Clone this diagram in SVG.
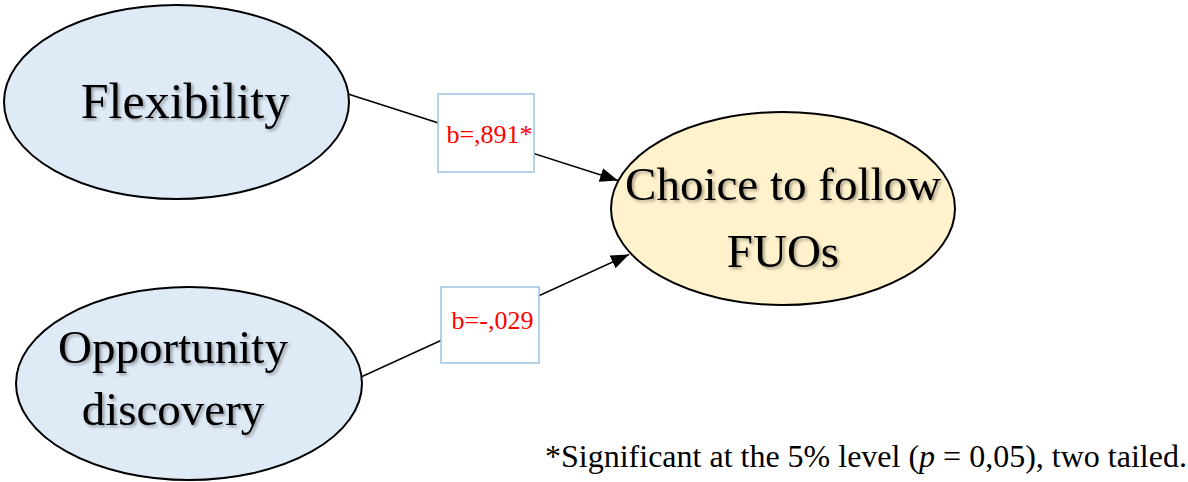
<svg xmlns="http://www.w3.org/2000/svg" width="1188" height="482" viewBox="0 0 1188 482">
<style>
.ell{stroke:#000;stroke-width:2}
.blue{fill:#DEEAF6}
.yel{fill:#FFF2CC}
.lbl{font-family:"Liberation Serif","Times New Roman",serif;fill:#000;text-anchor:middle}
.box{fill:#fff;stroke:#9DC3E6;stroke-width:1.5}
.coef{font-family:"Liberation Serif","Times New Roman",serif;font-size:26px;fill:#FF0000;text-anchor:middle}
.conn{stroke:#000;stroke-width:1.5;fill:none}
.note{font-family:"Liberation Serif","Times New Roman",serif;font-size:32px;fill:#000}
</style>
<defs>
<marker id="arr" markerUnits="userSpaceOnUse" markerWidth="22" markerHeight="16" refX="18" refY="7" orient="auto">
<path d="M0,0 L18,7 L0,14 Z" fill="#000"/>
</marker>
<filter id="sh" x="-10%" y="-20%" width="130%" height="150%">
<feDropShadow dx="2" dy="2" stdDeviation="1.5" flood-color="#000" flood-opacity="0.35"/>
</filter>
</defs>
<g id="connectors">
<line class="conn" x1="348" y1="94" x2="618" y2="180.5" marker-end="url(#arr)"/>
<line class="conn" x1="361" y1="377" x2="629" y2="254.5" marker-end="url(#arr)"/>
</g>
<g id="flexibility">
<ellipse class="ell blue" cx="176.5" cy="102" rx="172.5" ry="97"/>
<text class="lbl" x="185" y="118" font-size="50" filter="url(#sh)">Flexibility</text>
</g>
<g id="opportunity">
<ellipse class="ell blue" cx="189" cy="383.5" rx="173" ry="96.5"/>
<text class="lbl" x="173" y="363" font-size="47" filter="url(#sh)">Opportunity</text>
<text class="lbl" x="173" y="425" font-size="47" filter="url(#sh)">discovery</text>
</g>
<g id="choice">
<ellipse class="ell yel" cx="783" cy="208.5" rx="172" ry="96.5"/>
<text class="lbl" x="783" y="200" font-size="47" filter="url(#sh)">Choice to follow</text>
<text class="lbl" x="783" y="267" font-size="47" filter="url(#sh)">FUOs</text>
</g>
<g id="coef1">
<rect class="box" x="438" y="94" width="96" height="78"/>
<text class="coef" x="489.5" y="143">b=,891*</text>
</g>
<g id="coef2">
<rect class="box" x="441" y="287" width="98" height="76"/>
<text class="coef" x="492.5" y="329">b=-,029</text>
</g>
<g id="footnote">
<text class="note" x="545" y="467">*Significant at the 5% level (<tspan font-style="italic">p</tspan> = 0,05), two tailed.</text>
</g>
</svg>
